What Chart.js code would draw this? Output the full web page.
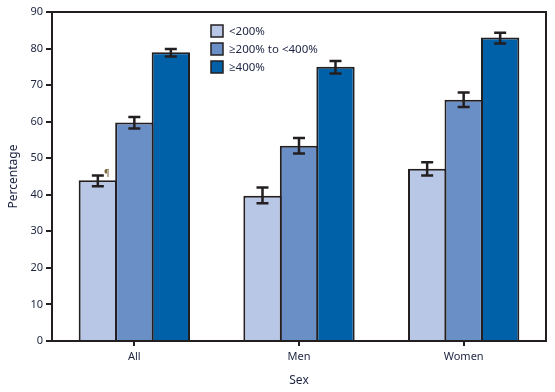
<!DOCTYPE html>
<html>
<head>
<meta charset="utf-8">
<script src="https://cdn.jsdelivr.net/npm/chart.js@4"></script>
<style>
  html, body { margin: 0; padding: 0; background: #fff; }
  #wrap { width: 555px; height: 392px; position: relative; }
</style>
</head>
<body>
<div id="wrap"><canvas id="chart"></canvas></div>
<script>
const categories = ["All", "Men", "Women"];
const seriesNames = ["<200%", "\u2265200% to <400%", "\u2265400%"];
const seriesColors = ["#b8c7e6", "#6a8fc7", "#0060a8"];

// values
const low200 = [44.0, 39.7, 47.1];
const mid200to400 = [59.8, 53.4, 66.0];
const high400 = [79.0, 75.0, 83.0];

// 95% CI ends
const low200Lo = [42.3, 37.7, 45.3];
const low200Hi = [45.3, 42.0, 48.9];
const midLo = [58.1, 51.3, 64.0];
const midHi = [61.3, 55.5, 68.0];
const highLo = [77.8, 73.2, 81.4];
const highHi = [79.9, 76.6, 84.3];

const yTicks = [0, 10, 20, 30, 40, 50, 60, 70, 80, 90];

const ink = "#231f20";
const labelColor = "#1c2340";
const fontFam = "'Noto Sans', 'Open Sans', sans-serif";

const errLo = [low200Lo, midLo, highLo];
const errHi = [low200Hi, midHi, highHi];

const extras = {
  id: "extras",
  afterDatasetsDraw(chart) {
    const ctx = chart.ctx;
    const ys = chart.scales.y;
    const area = chart.chartArea;
    ctx.save();
    // error bars
    ctx.strokeStyle = ink;
    ctx.lineWidth = 2.5;
    chart.data.datasets.forEach((ds, di) => {
      const meta = chart.getDatasetMeta(di);
      meta.data.forEach((bar, i) => {
        const x = bar.x;
        const yl = ys.getPixelForValue(errLo[di][i]);
        const yh = ys.getPixelForValue(errHi[di][i]);
        ctx.beginPath();
        ctx.moveTo(x, yl); ctx.lineTo(x, yh);
        ctx.moveTo(x - 6, yl); ctx.lineTo(x + 6, yl);
        ctx.moveTo(x - 6, yh); ctx.lineTo(x + 6, yh);
        ctx.stroke();
      });
    });
    // footnote mark
    const b0 = chart.getDatasetMeta(0).data[0];
    ctx.fillStyle = "#7a6a40";
    ctx.font = "9px " + fontFam;
    ctx.textAlign = "center";
    ctx.textBaseline = "alphabetic";
    ctx.fillText("\u00b6", b0.x + 9, ys.getPixelForValue(low200Hi[0]) + 1);
    // frame top & right
    ctx.strokeStyle = ink;
    ctx.lineWidth = 2;
    ctx.beginPath();
    ctx.moveTo(area.left, area.top);
    ctx.lineTo(area.right, area.top);
    ctx.lineTo(area.right, area.bottom);
    ctx.stroke();
    // legend
    ctx.font = "11.5px " + fontFam;
    ctx.textAlign = "left";
    ctx.textBaseline = "middle";
    const lx = 211, ly = [31, 49, 67];
    seriesNames.forEach((name, k) => {
      ctx.fillStyle = seriesColors[k];
      ctx.fillRect(lx, ly[k] - 6, 12, 12);
      ctx.lineWidth = 1.5;
      ctx.strokeStyle = ink;
      ctx.strokeRect(lx, ly[k] - 6, 12, 12);
      ctx.fillStyle = labelColor;
      ctx.fillText(name, lx + 18, ly[k] + 1);
    });
    ctx.restore();
  }
};

new Chart(document.getElementById("chart"), {
  type: "bar",
  data: {
    labels: categories,
    datasets: [low200, mid200to400, high400].map((vals, k) => ({
      label: seriesNames[k],
      data: vals,
      backgroundColor: seriesColors[k],
      borderColor: ink,
      borderWidth: 2,
      borderSkipped: "bottom",
      categoryPercentage: 0.665,
      barPercentage: 1.05
    }))
  },
  options: {
    responsive: true,
    maintainAspectRatio: false,
    animation: false,
    devicePixelRatio: 1,
    layout: { padding: { top: 12, right: 9, bottom: 0, left: 0 } },
    plugins: {
      legend: { display: false },
      tooltip: { enabled: false }
    },
    scales: {
      x: {
        afterFit: (s) => { s.height = 51; },
        grid: {
          display: true,
          offset: false,
          drawOnChartArea: false,
          drawTicks: true,
          tickLength: 5,
          color: ink,
          lineWidth: 2
        },
        border: { display: true, color: ink, width: 2 },
        ticks: { color: labelColor, font: { family: fontFam, size: 11 }, padding: 4 },
        title: {
          display: true,
          text: "Sex",
          color: labelColor,
          font: { family: fontFam, size: 12 },
          padding: { top: 4, bottom: 4 }
        }
      },
      y: {
        min: 0,
        max: 90,
        afterFit: (s) => { s.width = 52; },
        afterBuildTicks: (s) => { s.ticks = yTicks.map(v => ({ value: v })); },
        grid: {
          display: true,
          drawOnChartArea: false,
          drawTicks: true,
          tickLength: 6,
          color: ink,
          lineWidth: 2
        },
        border: { display: true, color: ink, width: 2 },
        ticks: { color: labelColor, font: { family: fontFam, size: 11 }, padding: 3 },
        title: {
          display: true,
          text: "Percentage",
          color: labelColor,
          font: { family: fontFam, size: 12 },
          padding: { top: 6, bottom: 0 }
        }
      }
    }
  },
  plugins: [extras]
});
</script>
</body>
</html>
